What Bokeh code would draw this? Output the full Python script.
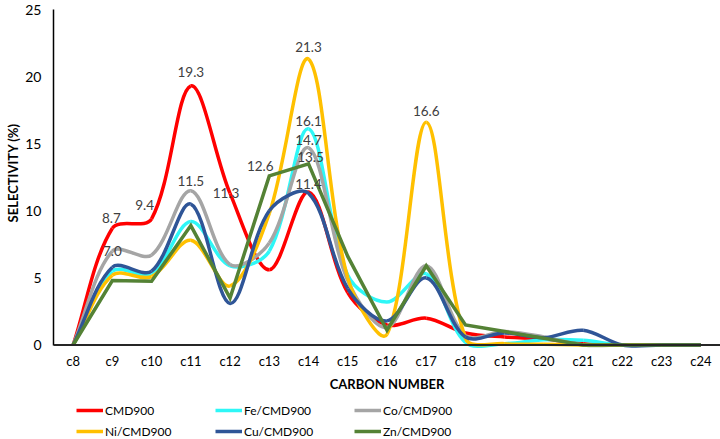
import math
from bokeh.plotting import figure
from bokeh.models import FixedTicker, Legend, LegendItem, Range1d, Span, Title
from bokeh.embed import file_html
from bokeh.resources import INLINE
from bokeh.core.properties import value

# ---------------- data ----------------
categories = ["c8", "c9", "c10", "c11", "c12", "c13", "c14", "c15", "c16",
              "c17", "c18", "c19", "c20", "c21", "c22", "c23", "c24"]

cmd900 = [0, 8.7, 9.4, 19.3, 11.3, 5.6, 11.4, 3.9, 1.5, 2.0, 0.9, 0.6, 0.45, 0.1, 0, 0, 0]
fe_cmd900 = [0, 5.5, 5.3, 9.2, 5.9, 7.0, 16.1, 5.2, 3.2, 5.3, 0.2, 0.1, 0.4, 0.35, 0, 0, 0]
co_cmd900 = [0, 7.0, 6.7, 11.5, 6.0, 7.6, 14.7, 4.8, 1.3, 5.9, 0.7, 1.0, 0.6, 0.0, 0, 0, 0]
ni_cmd900 = [0, 5.2, 5.1, 7.8, 4.4, 9.8, 21.3, 5.0, 0.8, 16.6, 0.5, 0.1, 0.05, 0, 0, 0, 0]
cu_cmd900 = [0, 5.8, 5.5, 10.5, 3.1, 10.0, 11.3, 4.2, 1.8, 5.0, 0.6, 0.9, 0.55, 1.1, 0, 0, 0]
zn_cmd900 = [0, 4.8, 4.75, 8.9, 3.5, 12.6, 13.5, 6.6, 1.1, 5.9, 1.5, 1.0, 0.5, 0, 0, 0, 0]

series_names = ["CMD900", "Fe/CMD900", "Co/CMD900", "Ni/CMD900", "Cu/CMD900", "Zn/CMD900"]
series_values = [cmd900, fe_cmd900, co_cmd900, ni_cmd900, cu_cmd900, zn_cmd900]
series_smooth = [True, True, True, True, True, False]

y_ticks = [0, 5, 10, 15, 20, 25]
x_title = "CARBON NUMBER"
y_title = "SELECTIVITY (%)"

# data labels: (series index, category)
label_points = [(0, "c9"), (0, "c10"), (0, "c11"), (0, "c12"), (0, "c14"),
                (2, "c9"), (2, "c11"), (2, "c14"), (1, "c14"), (3, "c14"),
                (3, "c17"), (5, "c13"), (5, "c14")]

# ---------------- styles ----------------
colors = ["#FF0000", "#2EF7F7", "#A5A5A5", "#FFC000", "#2F5597", "#548235"]
label_offsets = [(-1, -10), (-7, -14), (0, -14), (-4, 0), (0, -8),
                 (0, 0), (0, -10), (0, -8), (0, -8), (0, -12),
                 (0, -11), (-9, -10), (2, -7)]
FONT = "Lato"
LINE_W = 3.5
PX_X, PX_Y = 39.3, 13.4   # approx screen px per data unit (for smoothing weights)
TENSION = 1.0 / 3.0
Y_MIN, Y_MAX = 0, 25
Y_VIEW_START = -7.04      # room below the axis for tick labels, title and legend

xs = list(range(len(categories)))


def smooth_controls(x, y):
    n = len(x)

    def ctrl(prev, cur, nxt):
        d01 = math.hypot((x[cur] - x[prev]) * PX_X, (y[cur] - y[prev]) * PX_Y)
        d12 = math.hypot((x[nxt] - x[cur]) * PX_X, (y[nxt] - y[cur]) * PX_Y)
        tot = d01 + d12
        if tot == 0:
            return (x[cur], y[cur]), (x[cur], y[cur])
        fa = TENSION * d01 / tot
        fb = TENSION * d12 / tot
        dx = x[nxt] - x[prev]
        dy = y[nxt] - y[prev]
        before = (x[cur] - fa * dx, y[cur] - fa * dy)
        after = (x[cur] + fb * dx, y[cur] + fb * dy)
        return before, after

    seg = dict(x0=[], y0=[], x1=[], y1=[], cx0=[], cy0=[], cx1=[], cy1=[])
    for i in range(n - 1):
        p0 = max(i - 1, 0)
        p3 = min(i + 2, n - 1)
        _, c0 = ctrl(p0, i, i + 1)
        c1, _ = ctrl(i, i + 1, p3)
        seg["x0"].append(x[i]); seg["y0"].append(y[i])
        seg["x1"].append(x[i + 1]); seg["y1"].append(y[i + 1])
        seg["cx0"].append(c0[0]); seg["cy0"].append(c0[1])
        seg["cx1"].append(c1[0]); seg["cy1"].append(c1[1])
    return seg


p = figure(width=720, height=439, output_backend="svg", toolbar_location=None,
           x_range=Range1d(-0.5, len(categories) - 0.5),
           y_range=Range1d(Y_VIEW_START, Y_MAX), x_axis_location=None,
           min_border_left=52, min_border_right=0, min_border_top=9, min_border_bottom=0)
p.outline_line_color = None
p.xgrid.visible = False
p.ygrid.visible = False

renderers = []
for vals, col, smooth in zip(series_values, colors, series_smooth):
    if smooth:
        seg = smooth_controls(xs, vals)
        r = p.bezier(line_color=col, line_width=LINE_W, **seg)
    else:
        r = p.line(xs, vals, line_color=col, line_width=LINE_W, line_join="miter")
    renderers.append(r)

# data labels
cat_index = {c: i for i, c in enumerate(categories)}
lx, ly, lt, xo, yo = [], [], [], [], []
for (si, cat), (dx, dy) in zip(label_points, label_offsets):
    i = cat_index[cat]
    v = series_values[si][i]
    lx.append(i); ly.append(v); lt.append(f"{v:.1f}")
    xo.append(dx); yo.append(dy)
p.text(x=lx, y=ly, text=lt, x_offset=xo, y_offset=yo, text_align="center",
       text_baseline="middle", text_color="#404040", text_font=value(FONT),
       text_font_size="13.5px")

# category axis (line at y=0, labels and title below it)
p.add_layout(Span(location=Y_MIN, dimension="width", line_color="#262626", line_width=2))
p.text(x=xs, y=[Y_MIN] * len(xs), text=categories, y_offset=16, text_align="center",
       text_baseline="middle", text_color="#000000", text_font=value(FONT),
       text_font_size="13px")
p.text(x=[(len(xs) - 1) / 2], y=[Y_MIN], text=[x_title], y_offset=39, text_align="center",
       text_baseline="middle", text_color="#000000", text_font=value(FONT),
       text_font_size="13px", text_font_style="bold")

# value axis
ya = p.yaxis[0]
ya.ticker = FixedTicker(ticks=y_ticks)
ya.bounds = (Y_MIN, Y_MAX)
ya.major_tick_line_color = None
ya.minor_tick_line_color = None
ya.major_tick_in = 0
ya.major_tick_out = 0
ya.minor_tick_in = 0
ya.minor_tick_out = 0
ya.major_label_text_font = FONT
ya.major_label_text_font_size = "14px"
ya.major_label_text_color = "#000000"
ya.axis_line_color = "#000000"
ya.axis_line_width = 1.5
ya.major_label_standoff = 12

p.add_layout(Title(text=y_title, align="right", offset=114, standoff=4,
                   text_font=FONT, text_font_style="bold", text_font_size="13px",
                   text_color="#000000"), "left")

legend = Legend(items=[LegendItem(label=n, renderers=[r]) for n, r in zip(series_names, renderers)],
                orientation="horizontal", ncols=3,
                location=(23, -2), margin=0, padding=0, spacing=1,
                glyph_width=27, glyph_height=20, label_height=20, label_width=109,
                label_standoff=2, label_text_font=FONT, label_text_font_size="12px",
                label_text_color="#000000", border_line_alpha=0, background_fill_alpha=0)
p.add_layout(legend, "center")

open("out.html", "w").write(file_html(p, INLINE))
